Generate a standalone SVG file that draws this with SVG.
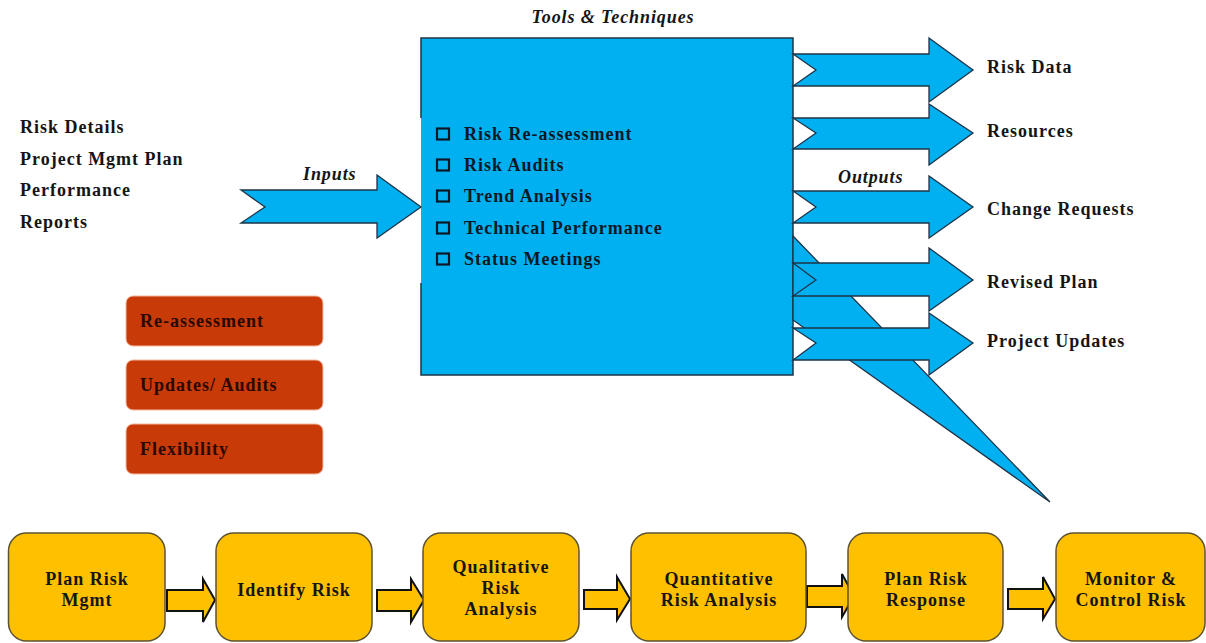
<svg xmlns="http://www.w3.org/2000/svg" width="1206" height="643" viewBox="0 0 1206 643">
<style>
.t{font-family:"Liberation Serif","Times New Roman",serif;font-weight:bold;font-size:18px;letter-spacing:1px;fill:#151515}
.ti{font-family:"Liberation Serif","Times New Roman",serif;font-weight:bold;font-style:italic;font-size:18px;letter-spacing:0.9px;fill:#151515}
.bt{fill:#0c1826}
.rt{fill:#2a0800}
.blue{fill:#00B0F0;stroke:#1d3447;stroke-width:1.3;stroke-linejoin:miter}
.chk{fill:none;stroke:#0c1826;stroke-width:2.2}
.red{fill:#C83A08;stroke:#f2b9a0;stroke-width:1}
.yel{fill:#FFC000;stroke:#5e5330;stroke-width:1.5}
.yarr{fill:#FFC000;stroke:#111;stroke-width:2;stroke-linejoin:miter}
.c{text-anchor:middle}
</style>

<g id="inputs-list">
<text class="t" x="20" y="133">Risk Details</text>
<text class="t" x="20" y="165">Project Mgmt Plan</text>
<text class="t" x="20" y="196">Performance</text>
<text class="t" x="20" y="228">Reports</text>
</g>

<g id="tools-box">
<text class="ti" x="613" y="23" text-anchor="middle">Tools &amp; Techniques</text>
<rect x="421" y="38" width="372" height="337" fill="#00B0F0"/>
<path d="M421,118 V38 H793 V375 H421 V283" fill="none" stroke="#1d3447" stroke-width="1.5"/>
<rect class="chk" x="437" y="128.5" width="12" height="11"/>
<text class="t bt" x="464" y="140">Risk Re-assessment</text>
<rect class="chk" x="437" y="159.5" width="12" height="11"/>
<text class="t bt" x="464" y="171">Risk Audits</text>
<rect class="chk" x="437" y="190.5" width="12" height="11"/>
<text class="t bt" x="464" y="202">Trend Analysis</text>
<rect class="chk" x="437" y="222.5" width="12" height="11"/>
<text class="t bt" x="464" y="234">Technical Performance</text>
<rect class="chk" x="437" y="253.5" width="12" height="11"/>
<text class="t bt" x="464" y="265">Status Meetings</text>
</g>

<g id="connectors">
<polygon class="blue" points="241,190 377,190 377,175 421,207 377,238 377,223 241,223 265,207"/>
<polygon class="blue" points="793,236 1050,502 793,320"/>
<polygon class="blue" points="793,54 929,54 929,38 973,70 929,102 929,86 793,86 816,70"/>
<polygon class="blue" points="793,118 929,118 929,104 973,133 929,165 929,149 793,149 816,133"/>
<polygon class="blue" points="793,191 929,191 929,176 973,207 929,238 929,223 793,223 816,207"/>
<polygon class="blue" points="793,263 929,263 929,248 973,280 929,311 929,296 793,296 816,280"/>
<polygon class="blue" points="793,328 929,328 929,313 973,343 929,375 929,360 793,360 816,343"/>
<polygon class="yarr" points="167,590 203,590 203,579 215,600 203,622 203,611 167,611"/>
<polygon class="yarr" points="377,590 411,590 411,579 424,600 411,622 411,611 377,611"/>
<polygon class="yarr" points="584,590 617,590 617,577 630,599 617,620 617,609 584,609"/>
<polygon class="yarr" points="807,586 842,586 842,574 854,596 842,617 842,607 807,607"/>
<polygon class="yarr" points="1008,589 1043,589 1043,577 1055,599 1043,619 1043,609 1008,609"/>
</g>

<g id="labels">
<text class="ti" x="303" y="180">Inputs</text>
<text class="ti" x="838" y="183">Outputs</text>
<text class="t" x="987" y="73">Risk Data</text>
<text class="t" x="987" y="137">Resources</text>
<text class="t" x="987" y="215">Change Requests</text>
<text class="t" x="987" y="288">Revised Plan</text>
<text class="t" x="987" y="347">Project Updates</text>
</g>

<g id="reassessment">
<rect class="red" x="126" y="296" width="197" height="50" rx="7"/>
<text class="t rt" x="140" y="327">Re-assessment</text>
</g>
<g id="updates-audits">
<rect class="red" x="126" y="360" width="197" height="50" rx="7"/>
<text class="t rt" x="140" y="391">Updates/ Audits</text>
</g>
<g id="flexibility">
<rect class="red" x="126" y="424" width="197" height="50" rx="7"/>
<text class="t rt" x="140" y="455">Flexibility</text>
</g>

<g id="plan-risk-mgmt">
<rect class="yel" x="8.5" y="533" width="156.5" height="108" rx="18"/>
<text class="t c" x="87" y="585">Plan Risk</text>
<text class="t c" x="87" y="606">Mgmt</text>
</g>
<g id="identify-risk">
<rect class="yel" x="216" y="533" width="156" height="108" rx="18"/>
<text class="t c" x="294" y="596">Identify Risk</text>
</g>
<g id="qualitative">
<rect class="yel" x="423" y="533" width="156" height="108" rx="18"/>
<text class="t c" x="501" y="573">Qualitative</text>
<text class="t c" x="501" y="594">Risk</text>
<text class="t c" x="501" y="615">Analysis</text>
</g>
<g id="quantitative">
<rect class="yel" x="631" y="533" width="175" height="108" rx="18"/>
<text class="t c" x="719" y="585">Quantitative</text>
<text class="t c" x="719" y="606">Risk Analysis</text>
</g>
<g id="plan-risk-response">
<rect class="yel" x="848" y="533" width="155" height="108" rx="18"/>
<text class="t c" x="926" y="585">Plan Risk</text>
<text class="t c" x="926" y="606">Response</text>
</g>
<g id="monitor-control">
<rect class="yel" x="1056" y="533" width="149" height="108" rx="18"/>
<text class="t c" x="1131" y="585">Monitor &amp;</text>
<text class="t c" x="1131" y="606">Control Risk</text>
</g>
</svg>
